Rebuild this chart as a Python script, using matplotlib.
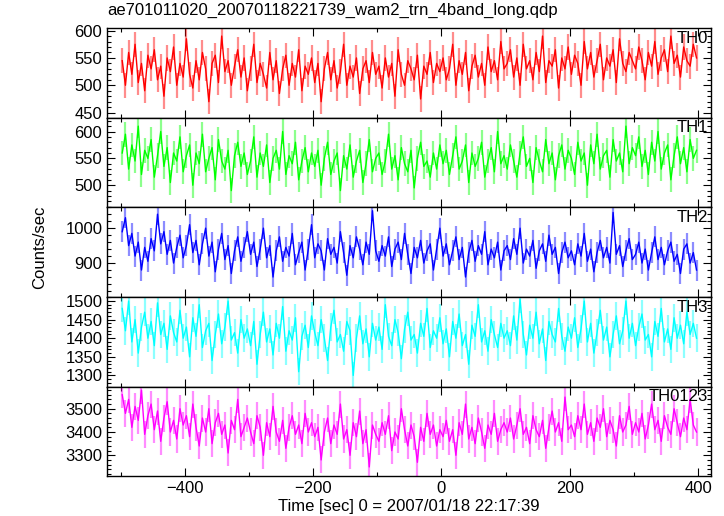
import numpy as np
import matplotlib.pyplot as plt
from matplotlib.ticker import MultipleLocator

plt.rcParams['font.family'] = ['Liberation Sans', 'DejaVu Sans']

# binned light curves, 5 s bins starting at t = -500 s
t_start = -500
bin_width = 5

th0 = [545, 500, 560, 520, 575, 505, 540, 490, 555, 530, 565, 510, 535, 480, 550, 525, 570, 500, 540, 515,
       585, 520, 495, 545, 510, 560, 530, 470, 540, 555, 505, 590, 525, 545, 500, 535, 565, 515, 550, 490,
       530, 575, 505, 540, 520, 495, 560, 510, 545, 485, 530, 555, 500, 540, 515, 565, 490, 535, 520, 550,
       505, 540, 470, 530, 560, 510, 545, 495, 525, 575, 500, 535, 515, 550, 485, 530, 545, 505, 560, 520,
       535, 495, 550, 515, 540, 480, 565, 520, 500, 545, 530, 510, 555, 475, 535, 520, 560, 505, 540, 525,
       550, 510, 530, 575, 500, 545, 520, 560, 490, 535, 555, 515, 540, 500, 570, 525, 545, 510, 580, 530,
       540, 565, 515, 550, 500, 575, 530, 545, 510, 560, 525, 590, 505, 545, 535, 565, 495, 550, 530, 570,
       520, 555, 540, 500, 580, 530, 560, 515, 545, 575, 510, 550, 535, 565, 505, 585, 540, 525, 560, 545,
       530, 570, 545, 510, 560, 535, 580, 520, 550, 565, 525, 590, 540, 555, 515, 570, 545, 535, 575, 550]

th1 = [560, 595, 530, 575, 545, 610, 520, 565, 550, 585, 515, 555, 600, 535, 570, 505, 560, 545, 590, 525,
       555, 575, 500, 560, 540, 595, 525, 550, 570, 510, 585, 545, 530, 565, 490, 555, 580, 535, 560, 520,
       545, 590, 515, 560, 535, 575, 505, 550, 565, 530, 600, 520, 555, 540, 580, 510, 545, 570, 525, 560,
       535, 565, 500, 550, 580, 520, 545, 560, 490, 555, 530, 575, 515, 545, 565, 505, 540, 585, 525, 550,
       560, 520, 545, 595, 530, 555, 510, 570, 540, 525, 565, 495, 550, 580, 535, 545, 515, 560, 530, 575,
       540, 565, 520, 555, 590, 530, 545, 575, 505, 560, 535, 550, 580, 515, 545, 570, 525, 600, 540, 555,
       530, 575, 545, 515, 560, 590, 535, 550, 505, 570, 545, 525, 585, 540, 560, 510, 555, 575, 530, 565,
       550, 520, 580, 545, 560, 500, 575, 540, 595, 530, 555, 565, 515, 585, 545, 560, 525, 610, 540, 570,
       555, 590, 535, 565, 520, 580, 545, 600, 530, 560, 575, 510, 555, 590, 540, 570, 525, 585, 550, 565]

th2 = [990, 1030, 950, 985, 920, 960, 880, 945, 905, 970, 935, 1040, 955, 990, 925, 965, 900, 945, 980, 915,
       950, 1010, 930, 965, 895, 955, 1000, 920, 960, 875, 940, 985, 910, 950, 870, 935, 975, 905, 945, 990,
       925, 960, 890, 940, 1000, 915, 950, 860, 935, 975, 905, 945, 920, 985, 895, 930, 960, 880, 940, 1010,
       915, 955, 935, 880, 970, 925, 945, 900, 990, 930, 865, 950, 915, 975, 940, 895, 960, 925, 1050, 935,
       905, 950, 920, 975, 890, 940, 960, 910, 985, 925, 870, 945, 915, 965, 900, 935, 955, 880, 940, 1000,
       920, 955, 895, 935, 975, 910, 945, 860, 930, 965, 905, 950, 925, 990, 895, 940, 915, 960, 880, 935,
       950, 910, 970, 925, 1000, 900, 940, 920, 965, 885, 935, 955, 905, 980, 925, 945, 870, 930, 960, 915,
       935, 895, 955, 920, 985, 905, 940, 875, 930, 965, 915, 945, 900, 1045, 925, 950, 890, 935, 970, 910,
       925, 960, 900, 940, 880, 930, 975, 910, 945, 895, 935, 960, 905, 925, 870, 940, 955, 900, 930, 880]

th3 = [1480, 1420, 1500, 1390, 1450, 1360, 1430, 1470, 1400, 1445, 1380, 1495, 1410, 1440, 1370, 1460, 1415, 1390, 1475, 1400,
       1430, 1350, 1455, 1405, 1490, 1375, 1420, 1440, 1340, 1410, 1465, 1385, 1430, 1500, 1395, 1415, 1360, 1450, 1400, 1425,
       1380, 1445, 1330, 1410, 1470, 1390, 1425, 1355, 1440, 1400, 1485, 1365, 1420, 1395, 1455, 1310, 1405, 1435, 1375, 1460,
       1415, 1380, 1450, 1400, 1340, 1430, 1475, 1390, 1410, 1365, 1445, 1420, 1300, 1400, 1460, 1385, 1425, 1350, 1440, 1395,
       1430, 1370, 1490, 1405, 1380, 1450, 1415, 1345, 1425, 1470, 1395, 1410, 1360, 1440, 1405, 1480, 1375, 1420, 1400, 1455,
       1385, 1425, 1350, 1445, 1400, 1465, 1380, 1410, 1330, 1435, 1405, 1490, 1390, 1420, 1365, 1450, 1410, 1375, 1440, 1400,
       1420, 1380, 1460, 1395, 1505, 1410, 1355, 1435, 1400, 1470, 1385, 1425, 1340, 1445, 1410, 1390, 1480, 1405, 1365, 1430,
       1400, 1455, 1375, 1425, 1500, 1390, 1440, 1360, 1415, 1475, 1395, 1430, 1350, 1410, 1460, 1385, 1420, 1500, 1400, 1440,
       1380, 1430, 1465, 1395, 1410, 1350, 1445, 1405, 1480, 1390, 1425, 1370, 1455, 1400, 1435, 1385, 1470, 1410, 1440, 1400]

th0123 = [3560, 3480, 3540, 3420, 3510, 3450, 3580, 3390, 3470, 3520, 3410, 3490, 3360, 3460, 3530, 3400, 3450, 3370, 3500, 3430,
          3470, 3380, 3520, 3420, 3340, 3460, 3400, 3500, 3350, 3440, 3480, 3390, 3430, 3310, 3450, 3410, 3540, 3380, 3420, 3460,
          3400, 3350, 3470, 3420, 3300, 3440, 3380, 3510, 3400, 3360, 3450, 3330, 3420, 3470, 3390, 3430, 3350, 3480, 3400, 3440,
          3380, 3420, 3280, 3400, 3460, 3350, 3430, 3390, 3520, 3370, 3410, 3300, 3440, 3380, 3490, 3350, 3410, 3250, 3430, 3390,
          3360, 3440, 3390, 3470, 3320, 3400, 3370, 3500, 3410, 3340, 3430, 3380, 3270, 3420, 3360, 3480, 3390, 3430, 3340, 3410,
          3380, 3450, 3360, 3410, 3300, 3440, 3390, 3520, 3370, 3420, 3350, 3460, 3400, 3330, 3430, 3390, 3480, 3360, 3410, 3440,
          3400, 3460, 3370, 3430, 3500, 3390, 3420, 3350, 3470, 3410, 3380, 3450, 3330, 3420, 3490, 3400, 3440, 3360, 3550, 3410,
          3430, 3380, 3470, 3410, 3520, 3390, 3440, 3360, 3460, 3420, 3500, 3380, 3450, 3410, 3340, 3470, 3400, 3430, 3510, 3390,
          3440, 3400, 3480, 3370, 3430, 3520, 3410, 3450, 3360, 3470, 3420, 3390, 3500, 3440, 3380, 3460, 3410, 3540, 3430, 3400]

# typical 1-sigma error per band
errors = [23, 23, 30, 37, 58]
names = ["TH0", "TH1", "TH2", "TH3", "TH0123"]
colors = ["#ff0000", "#00ff00", "#0000ff", "#00ffff", "#ff00ff"]
ylims = [(441, 605), (459, 626), (803, 1060), (1270, 1511), (3210, 3595)]
majors = [50, 50, 100, 50, 100]
minors = [10, 10, 20, 10, 20]
series = [th0, th1, th2, th3, th0123]

fig, axes = plt.subplots(5, 1, figsize=(7.24, 5.16), dpi=100, sharex=True)
plt.subplots_adjust(left=0.148, right=0.982, top=0.946, bottom=0.077, hspace=0)

for ax, y, err, name, c, yl, ma, mi in zip(axes, series, errors, names, colors, ylims, majors, minors):
    y = np.array(y, dtype=float)
    t = t_start + bin_width * np.arange(len(y)) + bin_width / 2
    ax.vlines(t, y - err, y + err, color=c, alpha=0.45, lw=1.6)
    ax.plot(t, y, color=c, lw=1.0)
    ax.set_ylim(*yl)
    ax.set_xlim(-521, 420)
    ax.yaxis.set_major_locator(MultipleLocator(ma))
    ax.yaxis.set_minor_locator(MultipleLocator(mi))
    ax.xaxis.set_major_locator(MultipleLocator(200))
    ax.xaxis.set_minor_locator(MultipleLocator(100))
    ax.tick_params(which="both", direction="in", top=True, right=True, labelsize=12, width=0.8)
    ax.tick_params(which="major", length=6)
    ax.tick_params(which="minor", length=3)
    for s in ax.spines.values():
        s.set_linewidth(1.0)
    ax.text(0.995, 0.97, name, transform=ax.transAxes, ha="right", va="top", fontsize=12)

axes[-1].set_xlabel("Time [sec] 0 = 2007/01/18 22:17:39", fontsize=12, labelpad=2)
fig.text(0.148, 0.965, "ae701011020_20070118221739_wam2_trn_4band_long.qdp", ha="left", va="bottom", fontsize=12)
fig.text(0.055, 0.52, "Counts/sec", rotation=90, ha="center", va="center", fontsize=12)

plt.savefig("out.png", dpi=100)
